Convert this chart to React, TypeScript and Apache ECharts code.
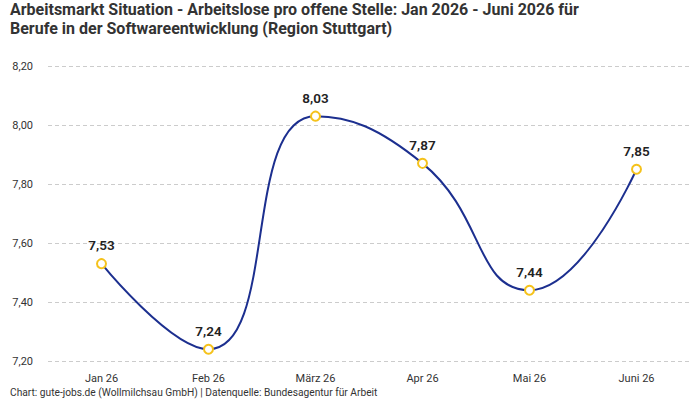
import React, { useEffect, useRef } from "react";
import * as echarts from "echarts";

const categories = ["Jan 26", "Feb 26", "März 26", "Apr 26", "Mai 26", "Juni 26"];
const values = [7.53, 7.24, 8.03, 7.87, 7.44, 7.85];
const titleLine1 =
  "Arbeitsmarkt Situation - Arbeitslose pro offene Stelle: Jan 2026 - Juni 2026 für";
const titleLine2 = "Berufe in der Softwareentwicklung (Region Stuttgart)";
const footerText =
  "Chart: gute-jobs.de (Wollmilchsau GmbH) | Datenquelle: Bundesagentur für Arbeit";

const fmt = (v: number) => v.toFixed(2).replace(".", ",");

export default function App() {
  const ref = useRef<HTMLDivElement>(null);
  useEffect(() => {
    if (!ref.current) return;
    const chart = echarts.init(ref.current, undefined, { renderer: "svg" });
    const titleStyle = {
      fontFamily: "Roboto, 'Noto Sans', sans-serif",
      fontSize: 16,
      fontWeight: "bold",
      fill: "#333333",
    };
    chart.setOption({
      animation: false,
      backgroundColor: "#ffffff",
      textStyle: { fontFamily: "Roboto, 'Noto Sans', sans-serif" },
      graphic: [
        {
          type: "text",
          x: 10,
          y: 9,
          style: { ...titleStyle, text: titleLine1, verticalAlign: "middle" },
        },
        {
          type: "text",
          x: 10,
          y: 28,
          style: { ...titleStyle, text: titleLine2, verticalAlign: "middle" },
        },
        {
          type: "text",
          left: 10,
          top: 387,
          style: {
            text: footerText,
            fontSize: 10.2,
            fill: "#333333",
            fontFamily: "Roboto, 'Noto Sans', sans-serif",
          },
        },
      ],
      grid: { left: 48, right: 10, top: 66, bottom: 39, containLabel: false },
      xAxis: {
        type: "category",
        data: categories,
        boundaryGap: true,
        axisLine: { show: false },
        axisTick: { show: false },
        axisLabel: { color: "#333333", fontSize: 11, margin: 12 },
      },
      yAxis: {
        type: "value",
        min: 7.2,
        max: 8.2,
        interval: 0.2,
        axisLine: { show: false },
        axisTick: { show: false },
        axisLabel: {
          color: "#333333",
          fontSize: 11,
          margin: 15,
          formatter: (v: number) => fmt(v),
        },
        splitLine: { lineStyle: { color: "#cccccc", type: [4, 3] } },
      },
      series: [
        {
          type: "line",
          data: values,
          smooth: 0.5,
          symbol: "circle",
          symbolSize: 9,
          lineStyle: { color: "#1c2f8f", width: 2 },
          itemStyle: { color: "#ffffff", borderColor: "#f5c21b", borderWidth: 2 },
          label: {
            show: true,
            position: "top",
            distance: 6,
            fontSize: 13.5,
            fontWeight: 600,
            color: "#222222",
            formatter: (p: any) => fmt(p.value),
          },
        },
      ],
    });
    return () => chart.dispose();
  }, []);
  return <div ref={ref} style={{ width: 700, height: 400, position: "absolute", left: 0, top: 0 }} />;
}
